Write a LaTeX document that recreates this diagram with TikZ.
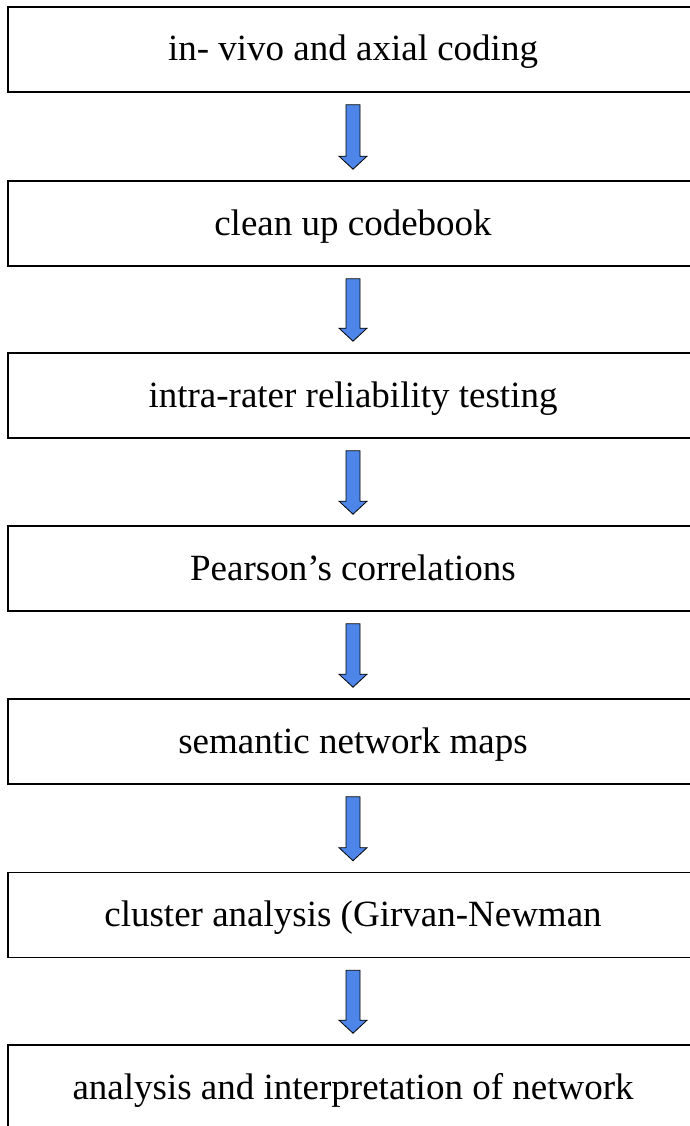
\documentclass[tikz,border=0pt]{standalone}
\usepackage{fontspec}
\setmainfont{Liberation Serif}
\usetikzlibrary{calc}
\definecolor{arrowblue}{RGB}{77,134,232}
\tikzset{
  stagebox/.style={draw=black, line width=1.6pt, rectangle, inner sep=0pt,
    minimum width=690pt, minimum height=85pt,
    text height=30pt, text depth=7pt,
    font=\fontsize{37}{44}\selectfont},
  blockarrow/.style={draw=black, line width=0.8pt, fill=arrowblue, line join=miter}
}
\begin{document}
\begin{tikzpicture}[x=1pt,y=1pt]
  \useasboundingbox (0,0) rectangle (690,-1126);
  \clip (0,0) rectangle (690,-1126);

  % process stages, top to bottom
  \node[stagebox] (b1) at (353,-49.5)   {in- vivo and axial coding};
  \node[stagebox] (b2) at (353,-223.5)  {clean up codebook};
  \node[stagebox] (b3) at (353,-395.5)  {intra-rater reliability testing};
  \node[stagebox] (b4) at (353,-568.5)  {Pearson’s correlations};
  \node[stagebox] (b5) at (353,-741.5)  {semantic network maps};
  \node[stagebox] (b6) at (353,-915)    {cluster analysis (Girvan-Newman};
  \node[stagebox] (b7) at (353,-1087.5) {analysis and interpretation of network};

  % block arrows between consecutive stages
  \foreach \a/\b in {b1/b2, b2/b3, b3/b4, b4/b5, b5/b6, b6/b7} {
    \draw[blockarrow] let \p1=(\a.south), \p2=(\b.north) in
      (\x1-7pt,\y1-12pt) -- (\x1-7pt,\y2+24pt) -- (\x1-14pt,\y2+24pt)
      -- (\x1,\y2+11pt) -- (\x1+14pt,\y2+24pt) -- (\x1+7pt,\y2+24pt)
      -- (\x1+7pt,\y1-12pt) -- cycle;
  }
\end{tikzpicture}
\end{document}
